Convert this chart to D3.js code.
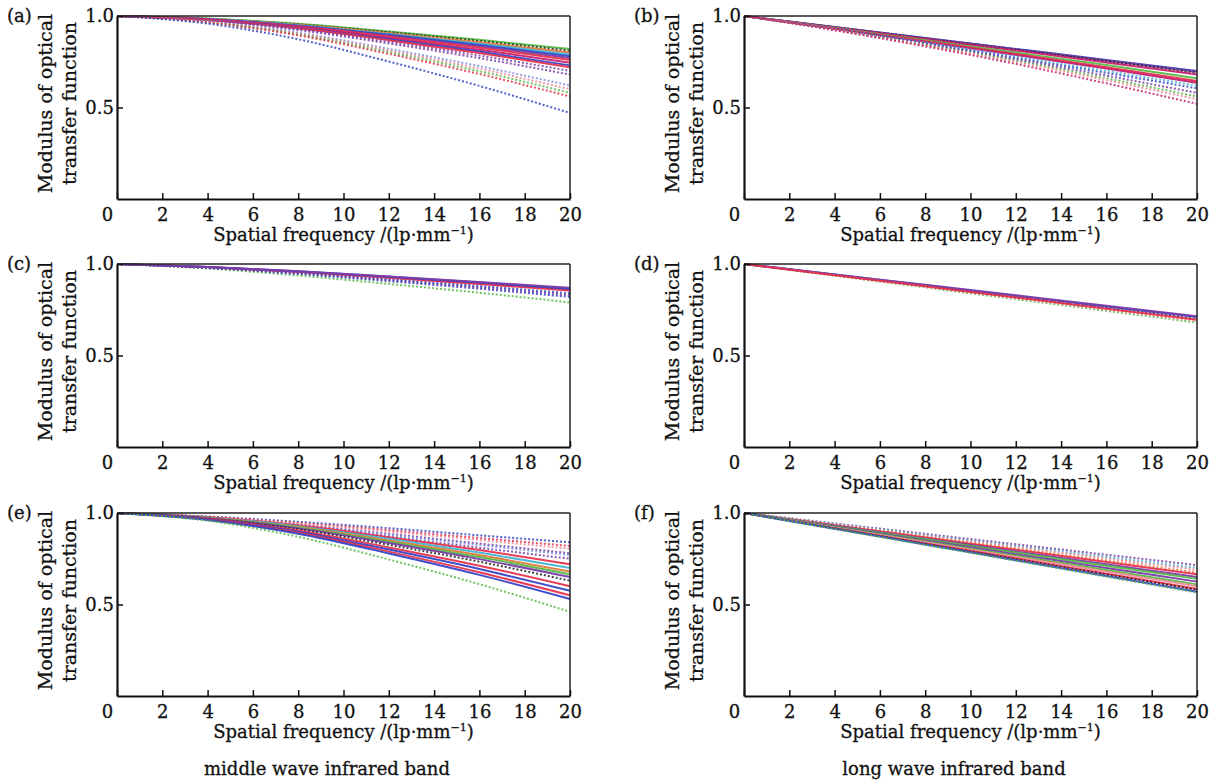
<!DOCTYPE html>
<html><head><meta charset="utf-8">
<script src="https://cdn.jsdelivr.net/npm/d3@7"></script>
<style>
body{margin:0;background:#fff}
svg{display:block}
text{font-family:"DejaVu Serif",serif;fill:#111;stroke:#111;stroke-width:0.3px}
</style>
</head><body>
<svg id="chart" width="1218" height="782"></svg>
<script>
// ---------- data ----------
const xSamples = [0, 4, 8, 12, 16, 20];
const xTickValues = [0, 2, 4, 6, 8, 10, 12, 14, 16, 18, 20];
const yTickValues = [0.5, 1.0];
const panelLetters = ["(a)", "(b)", "(c)", "(d)", "(e)", "(f)"];
const xTitleMain = "Spatial frequency /(lp\u00b7mm";
const xTitleSup = "\u22121";
const yTitleLine1 = "Modulus of optical";
const yTitleLine2 = "transfer function";
const bandNames = ["middle wave infrared band", "long wave infrared band"];

// (a) middle wave
const aColors = ["green","black","orange","cyan","blue","purple","red","magenta","blue","red","purple","purple","lightblue","pink","green","red","blue"];
const aTypes  = ["solid","dot","solid","solid","solid","solid","solid","solid","solid","solid","dot","dot","dot","dot","dot","dot","dot"];
const aValues = [
  [1,.986,.957,.915,.870,.82],
  [1,.985,.954,.911,.863,.81],
  [1,.984,.952,.906,.856,.80],
  [1,.983,.950,.901,.849,.79],
  [1,.982,.947,.897,.842,.78],
  [1,.982,.945,.892,.834,.77],
  [1,.981,.942,.887,.827,.76],
  [1,.980,.939,.880,.816,.745],
  [1,.978,.935,.873,.806,.73],
  [1,.978,.933,.868,.798,.72],
  [1,.976,.928,.859,.784,.70],
  [1,.974,.923,.850,.770,.68],
  [1,.970,.909,.821,.726,.62],
  [1,.968,.904,.812,.712,.60],
  [1,.966,.899,.803,.698,.58],
  [1,.965,.894,.793,.683,.56],
  [1,.958,.873,.751,.618,.47]
];
// (b) long wave
const bColors = ["blue","purple","black","magenta","green","red","magenta","cyan","blue","purple","green","pink","magenta"];
const bTypes  = ["solid","solid","dot","solid","solid","solid","solid","dot","dot","dot","dot","dot","dot"];
const bValues = [
  [1,.940,.880,.820,.760,.700],
  [1,.939,.879,.818,.757,.695],
  [1,.939,.877,.815,.753,.690],
  [1,.937,.874,.811,.746,.680],
  [1,.934,.867,.800,.732,.660],
  [1,.932,.862,.793,.720,.645],
  [1,.930,.859,.787,.713,.635],
  [1,.930,.855,.778,.700,.620],
  [1,.928,.851,.770,.689,.605],
  [1,.926,.846,.762,.674,.580],
  [1,.925,.842,.755,.660,.560],
  [1,.924,.839,.749,.649,.545],
  [1,.922,.834,.738,.632,.520]
];
// (c) middle wave
const cColors = ["green","blue","purple","blue","purple","red","blue","purple"];
const cTypes  = ["dot","dot","dot","dot","solid","solid","solid","solid"];
const cValues = [
  [1,.975,.937,.891,.843,.79],
  [1,.978,.946,.906,.865,.82],
  [1,.980,.949,.912,.873,.83],
  [1,.981,.952,.917,.880,.84],
  [1,.983,.958,.927,.895,.86],
  [1,.983,.957,.925,.891,.855],
  [1,.984,.960,.930,.899,.865],
  [1,.984,.961,.932,.902,.87]
];
// (d) long wave
const dColors = ["green","pink","black","blue","purple","red"];
const dTypes  = ["dot","dot","dot","solid","solid","solid"];
const dValues = [
  [1,.936,.872,.808,.744,.68],
  [1,.938,.876,.814,.752,.69],
  [1,.940,.880,.820,.760,.70],
  [1,.942,.884,.826,.768,.71],
  [1,.943,.886,.829,.772,.715],
  [1,.939,.878,.817,.756,.695]
];
// (e) middle wave
const eColors = ["blue","red","pink","purple","lightblue","purple","red","cyan","orange","green","purple","black","red","blue","red","blue","green"];
const eTypes  = ["dot","dot","dot","dot","dot","dot","solid","solid","solid","solid","solid","dot","solid","solid","solid","solid","dot"];
const eValues = [
  [1,.981,.952,.917,.878,.84],
  [1,.978,.946,.906,.863,.82],
  [1,.977,.942,.899,.852,.805],
  [1,.974,.934,.886,.833,.78],
  [1,.972,.931,.880,.825,.77],
  [1,.970,.925,.870,.810,.75],
  [1,.978,.933,.868,.798,.72],
  [1,.976,.928,.859,.784,.70],
  [1,.974,.923,.850,.770,.68],
  [1,.973,.920,.843,.759,.665],
  [1,.972,.916,.836,.748,.65],
  [1,.970,.911,.826,.734,.63],
  [1,.968,.904,.812,.712,.60],
  [1,.966,.898,.800,.694,.575],
  [1,.964,.892,.789,.676,.55],
  [1,.962,.887,.779,.662,.53],
  [1,.957,.870,.746,.611,.46]
];
// (f) long wave
const fColors = ["purple","cyan","pink","orange","red","purple","green","purple","green","pink","red","black","blue","green"];
const fTypes  = ["dot","dot","dot","dot","solid","solid","solid","solid","solid","solid","solid","dot","solid","dot"];
const fValues = [
  [1,.943,.886,.829,.772,.715],
  [1,.940,.880,.820,.760,.700],
  [1,.938,.876,.814,.752,.690],
  [1,.935,.870,.805,.740,.675],
  [1,.933,.866,.799,.732,.665],
  [1,.930,.860,.790,.720,.650],
  [1,.928,.856,.784,.712,.640],
  [1,.925,.850,.775,.700,.625],
  [1,.922,.844,.766,.688,.610],
  [1,.920,.840,.760,.680,.600],
  [1,.917,.834,.751,.668,.585],
  [1,.916,.832,.748,.664,.580],
  [1,.914,.828,.742,.656,.570],
  [1,.913,.826,.739,.652,.565]
];

// ---------- styling / layout ----------
const palette = {
  blue:"#3446c6", red:"#e6334d", green:"#58b947", purple:"#7a3ea6", cyan:"#45b5d3",
  orange:"#e07a3a", magenta:"#c52370", pink:"#f08a98", black:"#222222", lightblue:"#8090e0"
};
const panels = [
  {colors:aColors, types:aTypes, values:aValues},
  {colors:bColors, types:bTypes, values:bValues},
  {colors:cColors, types:cTypes, values:cValues},
  {colors:dColors, types:dTypes, values:dValues},
  {colors:eColors, types:eTypes, values:eValues},
  {colors:fColors, types:fTypes, values:fValues}
];
const colLeft = [117, 744];
const rowTop = [16, 264, 513];
const W = 453, H = 183;
const FS_TICK = 18, FS_X = 18, FS_Y = 19, FS_LET = 18, FS_BAND = 18;

const svg = d3.select("#chart");

panels.forEach((p, i) => {
  const col = i % 2, row = Math.floor(i / 2);
  const L = colLeft[col], T = rowTop[row];
  const x = d3.scaleLinear().domain([0, 20]).range([L, L + W]);
  const y = d3.scaleLinear().domain([0, 1]).range([T + H, T]);
  const g = svg.append("g");

  // curves
  const line = d3.line().x((d, k) => x(xSamples[k])).y(d => y(d)).curve(d3.curveMonotoneX);
  p.values.forEach((vals, k) => {
    const dotted = p.types[k] === "dot";
    g.append("path")
      .attr("d", line(vals))
      .attr("fill", "none")
      .attr("stroke", palette[p.colors[k]])
      .attr("stroke-width", 2)
      .attr("stroke-dasharray", dotted ? "2,2" : null)
      .attr("opacity", dotted ? 0.85 : 0.95);
  });

  // frame
  g.append("line").attr("x1", L).attr("x2", L + W).attr("y1", T).attr("y2", T)
    .attr("stroke", "#222").attr("stroke-width", 1.5);
  g.append("line").attr("x1", L + W).attr("x2", L + W).attr("y1", T).attr("y2", T + H)
    .attr("stroke", "#222").attr("stroke-width", 1.5);

  // x axis
  const xAxis = d3.axisBottom(x).tickValues(xTickValues).tickSizeInner(-6).tickSizeOuter(0).tickFormat(d3.format("d"));
  const gx = g.append("g").attr("transform", `translate(0,${T + H})`).call(xAxis);
  gx.select(".domain").attr("stroke", "#111").attr("stroke-width", 2.2);
  gx.selectAll(".tick line").attr("stroke", "#111").attr("stroke-width", 1.5);
  gx.selectAll(".tick text").attr("font-family", '"DejaVu Serif",serif').attr("font-size", FS_TICK)
    .attr("fill", "#111").attr("y", 9).attr("dy", "0.71em")
    .attr("dx", d => d === 0 ? -10 : 0);

  // y axis
  const yAxis = d3.axisLeft(y).tickValues(yTickValues).tickSizeInner(-6).tickSizeOuter(0).tickFormat(d3.format(".1f"));
  const gy = g.append("g").attr("transform", `translate(${L},0)`).call(yAxis);
  gy.select(".domain").attr("stroke", "#111").attr("stroke-width", 2.2);
  gy.selectAll(".tick line").attr("stroke", "#111").attr("stroke-width", 1.5);
  gy.selectAll(".tick text").attr("font-family", '"DejaVu Serif",serif').attr("font-size", FS_TICK)
    .attr("fill", "#111").attr("x", -3);

  // x title
  const xt = g.append("text").attr("x", L + W / 2).attr("y", T + H + 42)
    .attr("text-anchor", "middle").attr("font-size", FS_X);
  xt.append("tspan").text(xTitleMain);
  xt.append("tspan").text(xTitleSup).attr("font-size", 11).attr("dy", -7);
  xt.append("tspan").text(")").attr("dy", 7);

  // y title (two lines)
  const cy = T + H / 2 - 4;
  g.append("text").attr("transform", `translate(${L - 65},${cy}) rotate(-90)`)
    .attr("text-anchor", "middle").attr("font-size", FS_Y).text(yTitleLine1);
  g.append("text").attr("transform", `translate(${L - 41},${cy}) rotate(-90)`)
    .attr("text-anchor", "middle").attr("font-size", FS_Y).text(yTitleLine2);

  // panel letter
  g.append("text").attr("x", L - 110).attr("y", T + 6).attr("font-size", FS_LET).text(panelLetters[i]);
});

// band names
svg.append("text").attr("x", 327).attr("y", 775).attr("text-anchor", "middle").attr("font-size", FS_BAND).text(bandNames[0]);
svg.append("text").attr("x", 954).attr("y", 775).attr("text-anchor", "middle").attr("font-size", FS_BAND).text(bandNames[1]);
</script>
</body></html>
